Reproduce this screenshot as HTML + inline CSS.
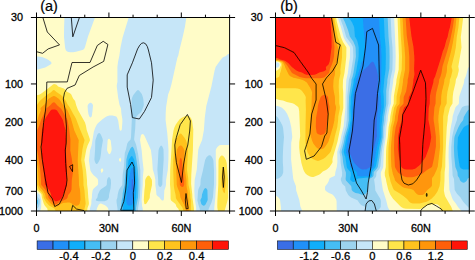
<!DOCTYPE html>
<html><head><meta charset="utf-8"><title>fig</title>
<style>
html,body{margin:0;padding:0;background:#fff;}
svg{display:block;}
.tl{font-family:"Liberation Sans",sans-serif;font-size:10.8px;fill:#000;stroke:#000;stroke-width:0.3px;}
.pl{font-family:"Liberation Sans",sans-serif;font-size:14.4px;fill:#000;stroke:#000;stroke-width:0.2px;}
</style></head><body>
<svg width="475" height="260" viewBox="0 0 475 260">
<rect width="475" height="260" fill="#fff"/>
<defs>
<filter id="soft" x="-5%" y="-5%" width="110%" height="110%"><feGaussianBlur stdDeviation="0.35"/></filter>
<clipPath id="ca"><rect x="36.5" y="17.5" width="193.1" height="193.5"/></clipPath>
<clipPath id="cb"><rect x="275.5" y="17.5" width="193.8" height="193.5"/></clipPath>
</defs>
<g clip-path="url(#ca)"><g filter="url(#soft)">
<rect x="35.5" y="16.5" width="195.1" height="195.5" fill="#FFFCC8"/>
<path fill="#FFE64B" fill-rule="evenodd" d="M53.0,84.4L54.0,84.1L56.0,84.6L56.8,85.0L58.1,86.5L63.8,88.5L65.1,89.5L66.6,91.5L70.0,93.2L71.3,94.5L73.1,98.5L75.1,101.0L76.1,105.0L78.0,110.0L85.0,122.5L85.9,125.5L86.7,130.0L89.8,139.0L89.9,140.5L87.6,145.5L86.3,149.5L84.4,160.0L86.1,170.5L87.0,180.0L87.1,184.5L87.7,189.0L88.3,197.5L88.9,203.0L88.8,204.5L87.5,208.0L87.0,212.0L47.9,212.0L47.3,208.5L44.7,205.5L43.7,203.5L41.9,197.5L41.5,194.5L40.4,193.0L36.5,189.6L35.5,189.0L35.5,95.4L39.0,94.8L41.0,93.8L48.7,88.0ZM186.0,115.8L187.0,115.7L188.5,116.0L190.0,117.0L191.2,118.5L192.1,121.0L193.3,129.5L192.9,150.0L191.3,174.5L191.1,184.0L192.3,194.5L192.4,197.5L193.9,208.0L194.0,212.0L179.3,212.0L178.5,208.9L176.5,206.7L175.5,204.0L171.1,200.5L170.6,199.0L170.5,190.5L170.0,184.5L170.2,170.0L172.1,139.5L173.5,130.5L174.4,127.5L175.8,124.5L179.4,119.5L181.3,118.0ZM221.5,155.5L222.0,155.4L223.0,155.8L224.5,157.4L226.1,160.5L226.7,163.0L228.1,180.0L227.9,190.0L228.1,197.5L227.7,200.0L224.3,212.0L218.1,212.0L217.4,208.0L217.3,206.0L217.4,200.5L218.3,185.0L218.5,161.0L218.7,159.5L219.5,157.7L220.5,156.3ZM148.5,175.4L149.5,176.1L151.7,179.5L152.0,181.0L152.0,185.0L149.9,194.5L149.8,197.5L149.5,198.5L146.8,203.0L145.9,204.0L145.0,204.3L144.5,204.0L144.3,203.5L143.8,200.0L144.4,190.5L145.1,185.0L145.1,180.5L145.5,179.0L146.5,177.2L147.5,175.9Z"/>
<path fill="#FFC31E" fill-rule="evenodd" d="M53.0,90.3L53.5,90.1L54.5,90.3L56.5,92.1L61.0,94.9L63.0,96.9L65.7,100.5L67.6,104.5L69.5,107.0L73.0,113.6L75.9,118.5L80.3,130.0L84.4,139.5L84.5,140.5L83.3,145.0L82.4,149.5L81.1,160.0L82.7,170.5L83.4,179.5L83.5,185.0L84.5,190.5L85.0,197.5L85.7,203.5L83.8,212.0L55.9,212.0L55.0,209.5L54.3,208.5L49.1,205.5L46.3,202.5L43.7,198.0L43.2,195.0L42.6,193.5L41.5,191.9L38.9,189.5L36.8,184.5L36.1,171.0L36.0,169.9L35.5,168.9L35.5,105.9L37.0,105.0L39.0,102.0L40.5,100.3L46.0,95.6L51.0,92.2ZM180.5,133.4L181.5,134.0L184.5,137.7L185.9,140.0L186.9,143.0L187.7,148.0L187.9,151.0L187.0,170.0L188.2,178.0L188.5,185.0L189.7,190.0L190.3,194.5L190.4,197.5L190.9,200.0L190.8,212.0L183.7,212.0L182.5,207.7L176.6,199.5L175.9,198.0L175.6,195.0L174.5,190.3L173.9,186.5L173.2,170.0L173.2,160.5L174.2,150.0L174.6,141.0L175.1,139.5L178.0,136.3L179.5,134.1ZM223.5,167.4L224.0,167.8L224.5,168.7L224.9,170.0L225.5,180.0L225.5,185.4L224.9,192.5L224.5,193.3L223.5,192.2L222.7,190.5L221.5,184.5L221.5,179.5L222.0,170.5L222.5,168.5L223.0,167.6Z"/>
<path fill="#FF960A" fill-rule="evenodd" d="M53.5,95.9L55.0,96.3L59.1,99.0L62.8,104.5L67.1,109.5L70.8,118.0L74.3,130.5L78.7,140.0L77.7,160.5L78.9,179.5L79.0,185.0L80.1,190.5L80.5,199.5L79.5,204.0L78.5,205.0L77.0,205.7L76.0,205.8L75.0,205.6L73.7,205.0L71.0,203.0L69.5,202.6L68.0,202.4L64.5,202.7L63.0,203.0L60.5,204.0L58.5,205.9L57.5,206.3L55.0,206.3L53.0,205.6L50.5,203.5L46.3,198.5L45.7,197.5L45.4,195.0L44.8,193.5L43.2,191.0L40.0,187.3L38.8,185.0L38.0,169.0L36.8,162.0L36.0,159.5L35.5,158.8L35.5,122.4L36.5,121.5L37.5,120.0L38.7,115.5L40.8,110.5L40.8,110.0L40.4,109.0L40.6,108.0L44.5,104.5L48.3,99.0L51.5,96.9ZM180.0,145.4L181.0,145.4L182.0,146.1L183.9,149.0L184.4,150.5L184.9,170.0L186.4,180.0L186.6,187.0L187.5,191.0L188.1,197.5L188.6,200.5L188.7,212.0L186.2,212.0L184.8,206.5L180.4,197.5L180.0,194.5L179.4,192.0L177.5,187.5L176.8,185.0L175.9,159.0L177.0,149.4L178.5,146.7Z"/>
<path fill="#FF5F0A" fill-rule="evenodd" d="M53.0,102.5L54.0,102.3L55.0,102.8L57.4,105.5L61.4,109.0L67.5,120.0L69.3,130.0L70.4,139.5L70.3,150.5L71.7,158.0L73.3,170.0L71.8,180.0L71.5,189.5L70.8,191.5L69.9,193.0L68.1,195.0L67.6,197.5L66.5,198.9L59.0,202.5L56.5,204.3L55.5,204.5L54.5,204.3L53.3,203.5L48.7,198.0L48.3,197.0L47.9,194.5L46.4,191.5L45.1,189.5L41.3,185.0L41.1,184.0L41.0,179.5L40.1,169.5L38.0,154.5L36.9,149.0L37.3,130.0L39.3,125.5L41.2,119.5L45.7,110.5L46.2,108.5L50.0,105.5L52.0,103.2ZM180.5,157.9L181.0,157.8L181.1,158.0L181.9,160.0L182.7,171.0L184.2,180.5L184.1,185.0L183.5,186.4L182.5,187.0L181.5,186.8L180.6,186.0L179.9,185.0L179.8,184.0L179.7,179.5L179.1,169.5L179.6,160.5L180.0,158.9Z"/>
<path fill="#FF1408" fill-rule="evenodd" d="M53.0,109.4L55.0,109.5L56.3,110.0L57.0,110.5L61.2,117.0L62.9,120.0L65.4,130.0L66.1,140.0L65.8,150.5L66.9,170.0L66.8,185.0L65.7,189.5L63.3,194.0L62.7,197.0L62.4,197.5L60.0,199.9L56.5,201.3L55.5,201.2L54.0,200.3L51.7,197.5L51.4,197.0L51.1,194.5L50.0,191.5L47.5,187.5L44.9,184.5L44.7,179.5L44.2,175.0L41.9,159.0L41.3,140.0L42.0,130.0L43.3,126.0L44.6,120.0L46.3,117.0L50.6,110.5L51.5,109.8Z"/>
<path fill="#C6E6F8" fill-rule="evenodd" d="M64.5,16.5L95.2,16.5L94.8,18.0L88.0,36.5L85.0,47.0L84.4,48.5L83.5,49.5L82.4,50.0L76.0,51.7L73.0,52.2L70.5,52.2L68.5,51.9L67.2,51.5L66.0,50.5L65.4,49.0L65.0,47.0L64.0,37.0L64.1,27.0ZM129.0,16.5L186.5,16.5L184.9,27.0L182.8,36.5L179.2,51.0L178.3,55.5L177.3,58.0L171.5,84.0L170.0,89.5L168.1,94.5L166.1,107.0L165.7,113.5L165.6,120.0L167.3,133.5L168.1,143.5L168.5,150.0L168.4,159.5L167.8,170.0L166.1,180.0L166.0,185.0L165.5,187.1L164.3,190.5L163.9,199.0L163.6,200.0L163.1,200.5L162.5,200.6L162.0,200.4L161.0,199.5L159.5,197.5L157.0,195.5L156.4,194.5L156.1,190.5L155.4,185.5L155.3,179.5L154.3,174.5L152.8,169.5L152.1,159.5L150.9,150.0L144.6,136.0L143.7,134.5L142.5,133.9L141.5,134.4L140.9,135.5L140.0,140.0L141.7,150.5L142.5,160.0L143.6,169.5L142.9,176.5L142.7,185.0L141.6,200.0L142.1,206.0L142.8,209.0L142.8,212.0L109.0,212.0L108.1,208.5L107.2,207.0L105.0,205.2L101.0,203.5L100.4,203.5L99.4,204.0L98.5,205.0L97.1,208.0L96.1,212.0L89.8,212.0L89.9,208.5L91.3,204.0L91.4,200.0L91.9,197.5L92.0,194.5L92.6,190.5L93.5,188.8L97.7,185.0L98.1,184.0L98.1,180.5L97.7,179.0L96.9,178.0L93.4,175.0L91.5,172.4L90.4,170.5L88.9,160.5L90.0,150.5L91.7,145.0L93.8,132.0L95.1,128.0L96.3,125.5L97.6,123.5L102.8,119.0L106.0,116.8L107.7,116.0L109.5,115.6L112.5,115.5L115.5,116.2L116.5,116.8L117.0,117.4L118.2,120.5L119.3,128.5L119.7,130.0L120.5,130.8L121.0,130.7L121.8,129.5L122.4,121.5L122.3,119.0L121.4,113.5L121.0,108.5L119.5,104.8L118.2,98.0L116.8,87.0L116.8,85.0L117.4,82.0L117.4,67.0L118.0,62.0L119.4,55.5L120.5,47.5L122.6,37.5ZM108.3,139.0L107.7,140.0L107.6,141.0L107.0,150.0L108.1,153.0L109.0,154.1L109.5,154.2L110.3,153.5L111.2,151.5L111.6,150.0L111.6,148.0L110.7,140.5L109.5,138.9L109.0,138.7ZM119.8,158.0L119.1,159.0L118.9,160.0L119.5,161.2L120.0,161.7L120.5,161.7L121.0,161.0L121.2,159.5L120.5,157.8L120.0,157.8ZM101.7,168.5L100.9,169.5L100.7,170.5L101.3,172.5L101.5,172.8L102.0,172.8L103.1,171.0L103.3,170.0L102.5,168.6L102.0,168.3ZM228.5,54.0L230.5,53.6L230.5,145.0L221.0,145.0L219.5,145.3L218.5,145.9L217.4,147.0L216.4,148.5L215.8,150.0L215.8,160.0L216.3,170.5L216.3,184.5L215.7,190.5L215.3,197.5L214.3,207.5L214.2,212.0L196.2,212.0L196.1,207.5L194.6,197.0L194.3,190.0L194.7,180.0L196.8,169.5L198.2,150.0L199.1,147.0L202.1,140.0L203.9,130.0L204.8,117.5L206.3,106.0L211.4,86.5L214.6,70.5L215.6,67.0L218.7,62.5L222.2,58.0L223.0,57.3L226.0,56.0L227.4,54.5ZM36.0,56.3L42.0,57.1L46.9,59.0L48.5,59.9L50.6,61.5L51.4,62.5L51.5,63.5L50.5,64.5L45.2,67.5L37.9,69.5L35.5,69.9L35.5,56.3ZM90.0,102.7L91.0,102.8L92.0,103.5L92.7,104.5L93.0,105.5L92.5,111.0L91.8,116.0L91.3,117.0L90.5,117.4L90.0,117.2L89.3,116.5L88.4,114.0L87.9,110.5L87.6,106.5L87.7,105.5L88.1,104.5L89.0,103.4ZM35.7,192.0L37.5,192.7L40.0,194.9L40.5,197.5L41.3,200.0L41.2,207.0L40.7,209.5L39.7,212.0L35.5,212.0L35.5,192.0Z"/>
<path fill="#9CD3EF" fill-rule="evenodd" d="M137.0,90.5L138.0,90.0L139.0,90.5L141.8,94.0L142.5,96.0L143.3,99.0L143.8,104.5L143.6,106.0L141.5,111.5L140.5,112.7L138.5,114.2L135.7,117.5L135.2,128.5L134.2,138.5L134.2,140.0L135.5,143.0L136.3,145.5L138.1,154.0L140.3,170.0L140.4,185.5L139.9,197.5L138.1,208.0L138.0,212.0L117.7,212.0L117.5,208.5L116.6,202.5L116.5,200.0L117.4,197.5L117.7,194.5L118.7,190.5L120.0,188.0L122.0,185.5L122.3,184.5L122.7,174.5L123.9,166.5L124.8,153.0L126.0,149.2L127.3,143.5L128.5,141.5L130.5,139.7L131.0,137.2L131.8,120.0L131.5,113.0L131.7,99.0L132.4,97.0L133.5,94.7ZM98.5,133.2L99.5,133.1L100.8,134.5L102.5,138.5L102.9,140.5L101.5,148.5L100.8,155.0L100.2,158.5L99.6,160.0L98.0,162.9L97.0,164.1L96.5,164.1L96.0,163.8L95.2,162.5L94.7,161.0L94.4,159.5L95.1,149.5L95.3,141.0L95.5,139.8L97.2,135.0L97.7,134.0ZM160.5,145.9L161.0,145.6L161.5,145.7L162.0,146.1L162.8,147.5L163.5,149.5L163.7,159.0L162.5,177.5L162.3,184.5L161.5,186.1L160.5,186.9L160.0,187.0L158.8,186.0L158.2,184.5L158.1,179.0L157.4,169.5L158.5,150.5L159.2,148.0ZM208.5,155.4L209.5,155.2L210.0,155.3L211.1,156.0L212.5,158.0L213.4,160.5L214.0,170.5L214.0,184.0L212.9,197.5L211.5,202.4L208.8,208.5L208.0,212.0L200.2,212.0L199.7,208.5L198.5,205.1L197.4,200.5L198.1,190.5L198.5,189.0L200.4,185.0L200.7,179.5L202.8,171.0L205.1,160.0L206.5,157.3ZM108.5,177.2L109.0,177.0L109.5,177.3L110.6,179.0L110.9,180.5L111.0,183.5L110.5,188.5L109.1,194.5L108.9,197.5L108.4,198.5L107.8,199.5L107.0,200.3L104.5,201.2L98.5,201.2L96.5,200.8L96.0,200.5L95.8,200.0L95.9,199.5L97.4,197.5L97.9,194.5L99.8,190.5L101.3,189.0L105.9,186.0L106.5,185.3L106.8,184.5L107.0,180.0L107.6,178.5ZM35.7,194.5L36.9,195.0L37.4,195.5L37.7,197.0L39.7,199.5L39.9,201.0L39.7,204.0L38.9,206.5L37.5,208.2L35.5,209.3L35.5,194.5Z"/>
<path fill="#45BEF5" fill-rule="evenodd" d="M132.0,146.7L132.5,146.8L133.0,147.3L134.0,149.1L135.5,154.2L136.8,162.0L137.8,170.0L138.1,175.0L138.4,180.0L138.4,189.0L138.0,197.5L136.1,207.5L136.0,212.0L120.8,212.0L120.9,207.0L121.7,200.5L122.5,197.0L122.7,193.5L123.2,190.5L124.6,185.0L124.7,180.0L125.9,170.0L126.4,159.5L127.4,155.5L128.5,152.4L130.4,148.5ZM205.0,188.2L205.5,188.1L206.4,188.5L207.4,190.0L207.7,199.5L207.5,200.5L205.5,204.5L204.5,205.4L203.5,205.7L202.2,205.0L201.3,204.0L200.5,201.0L200.4,200.0L201.7,197.5L202.0,194.5L203.4,190.5L204.2,189.0ZM36.0,199.4L37.5,199.9L38.0,200.5L38.0,203.0L37.5,204.2L35.5,205.2L35.5,199.3Z"/>
<path fill="#10AEFA" fill-rule="evenodd" d="M131.0,156.4L131.5,156.1L132.0,156.1L132.5,156.6L134.0,159.3L134.5,160.9L135.8,169.5L136.5,179.5L136.5,189.5L136.1,197.5L134.2,208.0L134.1,212.0L123.0,212.0L123.0,207.7L123.7,200.5L124.4,197.5L124.6,194.5L125.2,190.5L126.5,185.0L126.6,179.5L128.5,160.6L129.0,159.2Z"/>
<path fill="#2090F8" fill-rule="evenodd" d="M132.0,167.4L132.5,167.4L133.4,169.0L134.1,172.5L134.8,180.0L134.7,190.5L133.9,195.5L133.6,199.5L132.7,203.5L132.2,204.5L131.5,205.1L130.5,205.6L129.5,205.8L128.0,205.2L127.0,204.2L126.5,202.4L126.2,200.0L127.2,190.5L128.6,185.0L128.6,180.5L128.9,178.5L131.0,169.5L131.5,168.1Z"/>
<path fill="#3A6EE6" fill-rule="evenodd" d="M132.5,178.9L133.0,179.8L133.1,182.5L133.0,188.6L132.5,190.3L132.0,190.3L131.8,190.0L131.6,189.0L131.8,180.5L132.0,179.5Z"/>
<path d="M42.8,17.3L47.3,32.0L59.5,44.9L48.2,48.9L42.6,53.3L36.5,51.7" fill="none" stroke="#000" stroke-width="0.8" stroke-linejoin="round"/>
<path d="M71.3,17.3L72.8,36.8L79.4,17.6" fill="none" stroke="#000" stroke-width="0.8" stroke-linejoin="round"/>
<path d="M54.7,206.6L52.5,199.0L48.0,192.7L45.5,180.0L42.3,159.7L41.0,147.0L41.7,143.0L43.6,122.7L45.5,110.0L46.4,100.0L46.8,82.0L67.3,81.9L70.9,67.0L72.0,62.5L90.0,62.5L97.3,45.5L103.2,41.3L107.9,44.5L103.7,61.4L93.1,67.0L79.3,75.5L75.1,85.0L67.0,88.4L64.5,92.7L63.3,99.0L65.1,110.0L66.4,126.0L66.2,143.0L65.3,150.0L65.7,163.5L67.0,180.0L66.4,185.0L63.2,196.5L59.4,204.0L54.7,206.6" fill="none" stroke="#000" stroke-width="0.8" stroke-linejoin="round"/>
<path d="M72.7,164.7L69.5,166.5L72.5,171.7L72.7,164.7" fill="none" stroke="#000" stroke-width="0.8" stroke-linejoin="round"/>
<path d="M71.4,211.0L72.7,205.3L76.5,209.0L84.0,210.6" fill="none" stroke="#000" stroke-width="0.8" stroke-linejoin="round"/>
<path d="M143.6,42.8L145.6,43.8L147.3,46.5L148.4,50.0L151.5,62.8L153.2,80.1L151.5,97.5L144.5,111.4L139.3,119.0L132.4,117.6L130.6,104.4L127.2,87.1L127.2,74.9L132.4,62.8L137.6,48.9L139.8,45.2L141.6,43.3L143.6,42.8" fill="none" stroke="#000" stroke-width="0.8" stroke-linejoin="round"/>
<path d="M120.6,210.3L121.6,207.5L123.8,201.5L125.7,190.0L126.3,183.0L127.0,170.0L132.0,162.0L134.0,166.5L134.6,183.0L133.3,192.7L133.9,210.3L120.6,210.3" fill="none" stroke="#000" stroke-width="0.8" stroke-linejoin="round"/>
<path d="M187.4,114.5L180.2,124.7L176.4,137.3L174.8,145.0L175.3,153.0L176.4,162.7L181.5,182.5L183.5,165.0L186.0,150.8L187.8,145.0L189.7,131.0L190.4,120.9L187.4,114.5" fill="none" stroke="#000" stroke-width="0.8" stroke-linejoin="round"/>
<path d="M186.0,193.5L188.2,208.5L186.2,208.8L185.3,200.0L186.0,193.5" fill="none" stroke="#000" stroke-width="0.8" stroke-linejoin="round"/>
<path d="M223.3,167.0L224.2,177.0L223.4,187.5L222.5,177.0L223.3,167.0" fill="none" stroke="#000" stroke-width="0.8" stroke-linejoin="round"/>
</g></g>
<g clip-path="url(#cb)"><g filter="url(#soft)">
<rect x="274.5" y="16.5" width="195.8" height="195.5" fill="#FFFCC8"/>
<path fill="#FFE64B" fill-rule="evenodd" d="M275.0,16.5L335.8,16.5L336.8,21.5L340.9,37.0L343.0,42.1L345.9,46.5L346.4,47.5L346.3,56.0L346.0,59.5L344.5,72.7L343.0,80.0L342.8,87.0L343.2,92.5L343.3,108.0L341.4,117.0L341.2,120.5L340.4,127.5L337.4,142.0L332.7,158.0L332.4,160.0L332.6,162.0L332.0,163.3L329.5,166.9L327.4,169.0L326.0,170.0L322.8,171.5L320.5,173.8L319.0,174.8L313.5,177.0L312.0,177.1L310.0,176.5L307.2,175.0L305.5,173.5L304.2,171.5L303.3,169.5L301.4,163.0L299.8,153.5L299.2,147.5L299.3,142.0L300.2,136.0L299.2,111.0L298.5,107.5L297.6,106.5L294.2,104.0L292.5,103.2L286.8,102.0L283.0,100.5L279.5,99.9L276.5,98.9L274.5,98.5L274.5,71.3L277.0,70.5L278.5,69.6L279.5,68.4L280.9,65.0L280.4,63.0L279.2,62.0L277.5,61.6L274.5,61.4L274.5,16.5ZM397.5,16.5L463.3,16.5L460.8,37.0L461.5,47.5L458.3,66.5L458.8,69.5L458.7,71.0L457.5,76.0L455.9,79.5L455.5,83.0L453.3,92.0L452.7,97.0L452.5,103.5L450.0,107.5L447.8,116.5L447.6,120.5L446.8,127.0L446.3,136.0L445.4,156.5L445.3,166.5L444.6,172.5L444.5,180.5L443.9,190.5L444.5,194.0L445.2,196.5L451.3,207.0L452.6,210.5L452.9,212.0L442.2,212.0L442.0,211.4L440.5,209.5L439.9,207.0L439.4,206.0L438.0,204.8L436.0,204.1L430.5,204.6L428.0,205.1L425.1,206.5L422.5,208.3L420.0,209.1L406.0,208.7L403.5,208.2L402.0,207.5L400.6,206.5L393.0,198.8L390.2,194.5L388.2,189.5L386.3,181.5L385.8,178.5L384.9,176.0L384.7,172.5L385.8,167.0L386.1,151.0L386.4,147.0L387.8,137.0L388.6,127.0L390.0,120.5L390.3,116.5L391.9,108.0L393.7,103.5L393.9,96.0L396.3,82.5L396.5,79.5L398.7,69.5L398.9,55.5Z"/>
<path fill="#FFC31E" fill-rule="evenodd" d="M275.0,16.5L334.1,16.5L335.0,22.5L337.8,37.0L339.4,41.5L341.8,46.5L342.1,48.0L342.0,57.5L340.4,69.5L340.5,73.5L339.0,80.0L338.7,86.5L339.2,96.5L339.2,103.5L339.9,107.0L339.8,109.0L338.3,116.5L338.1,120.5L337.3,127.0L334.8,136.5L333.7,142.0L330.7,151.5L329.7,153.0L325.3,157.5L323.0,159.0L319.5,160.6L318.0,160.9L316.2,160.5L312.8,159.0L310.9,157.5L309.3,155.5L307.6,152.5L306.1,147.0L305.4,141.5L305.5,126.5L305.9,109.5L305.6,100.5L305.8,97.5L305.5,96.2L304.5,94.5L302.4,91.5L301.0,90.0L299.4,89.0L297.5,88.4L295.5,88.3L274.5,88.2L274.5,78.2L278.0,77.5L279.4,76.5L280.0,73.5L280.7,71.5L282.2,65.0L281.8,63.0L280.9,62.0L278.0,61.1L274.5,60.8L274.5,16.5ZM400.5,16.5L459.5,16.5L458.4,27.5L456.8,37.0L455.8,47.5L454.6,54.0L451.5,66.5L451.6,67.5L452.4,70.0L452.3,71.5L451.1,76.5L449.9,79.5L449.6,82.5L447.4,92.0L446.8,97.0L446.7,103.5L444.7,107.5L443.1,116.5L443.1,147.5L441.9,166.5L440.6,172.0L440.4,180.0L439.6,186.0L438.0,190.3L437.0,192.2L434.7,195.5L431.8,198.5L429.0,200.5L426.5,201.7L419.5,203.5L413.0,203.5L411.0,203.0L409.5,201.9L407.0,199.0L403.4,196.0L399.8,193.5L394.0,190.1L393.0,188.3L390.5,181.5L389.9,178.5L389.0,175.5L388.6,172.5L388.3,158.0L388.5,147.5L390.5,127.5L392.2,120.5L392.5,116.5L394.2,107.5L396.4,103.5L396.6,96.5L398.7,86.0L399.3,82.5L399.5,79.5L401.7,69.5L402.0,56.5L401.6,47.0L400.8,36.5L400.0,18.0L400.0,16.5Z"/>
<path fill="#FF960A" fill-rule="evenodd" d="M275.0,16.5L332.7,16.5L335.4,37.5L336.2,41.5L338.0,47.5L337.6,58.0L335.2,69.5L334.9,74.5L333.6,79.5L333.2,86.5L333.7,91.0L334.9,97.0L335.1,104.0L336.0,106.7L336.1,108.0L334.7,116.5L334.4,120.5L332.9,127.0L328.5,141.5L327.7,143.0L324.5,147.5L323.5,148.4L322.0,149.1L320.5,149.4L319.0,149.1L317.0,148.0L315.6,146.5L313.7,144.0L312.6,142.0L311.1,137.5L310.5,135.1L310.1,132.5L310.1,126.0L310.5,117.5L311.4,108.5L311.8,97.0L312.1,92.5L311.7,91.0L309.7,87.0L306.8,82.5L304.7,81.0L302.6,80.0L299.5,79.0L293.5,77.7L289.9,76.0L288.7,74.5L285.5,68.0L284.4,65.0L283.0,62.5L282.5,62.0L281.5,61.5L278.5,60.6L274.5,60.2L274.5,16.5ZM403.0,16.5L456.6,16.5L455.5,27.0L452.9,42.5L451.0,51.5L447.1,66.0L446.9,70.5L446.5,73.0L445.6,76.5L444.4,79.5L444.1,82.5L441.8,92.0L441.2,97.0L441.1,103.5L439.6,107.5L438.5,115.4L438.3,120.0L439.7,136.5L440.1,146.5L437.8,166.5L436.5,170.1L434.0,175.4L432.4,177.5L432.0,178.5L432.0,185.0L431.8,186.0L430.5,187.5L427.3,190.0L424.5,193.8L423.5,194.6L422.5,194.9L419.0,195.0L417.5,194.6L416.0,193.3L413.4,190.0L411.0,189.1L405.0,188.1L403.5,187.5L401.8,186.5L397.5,183.0L395.5,181.0L394.9,180.0L394.4,178.0L393.0,174.5L391.4,167.0L390.9,157.0L390.9,147.5L391.8,137.0L392.8,127.5L394.7,120.5L395.0,116.5L396.8,107.5L397.3,106.5L399.1,104.5L399.6,103.5L399.8,97.0L401.5,91.5L402.9,82.5L403.1,79.5L405.1,69.5L405.2,57.0L404.5,47.5L403.5,36.5L402.6,17.0L402.6,16.5Z"/>
<path fill="#FF5F0A" fill-rule="evenodd" d="M275.0,16.5L331.6,16.5L332.7,27.0L333.7,40.5L334.5,47.0L334.0,56.5L333.2,60.5L331.7,65.0L330.0,68.8L329.1,72.5L328.5,73.4L325.4,76.5L324.5,77.2L323.0,77.8L320.0,78.2L306.0,78.2L303.0,77.8L299.8,77.0L292.0,72.9L286.9,65.0L284.0,61.8L282.5,61.0L277.5,59.7L274.5,59.3L274.5,16.5ZM406.0,16.5L454.4,16.5L452.8,27.5L450.1,40.5L447.1,51.5L442.5,66.5L441.5,73.0L440.5,76.5L439.2,79.5L438.9,82.5L436.3,92.5L435.7,97.0L435.6,103.5L434.4,107.5L433.6,118.0L433.7,120.5L434.7,127.0L435.9,136.5L435.9,146.5L434.0,158.2L432.4,165.5L432.1,166.5L431.5,167.3L427.0,170.1L422.0,174.0L414.5,176.8L412.0,177.2L407.0,177.2L404.1,176.5L400.0,174.0L398.1,172.5L397.4,171.5L395.4,168.0L394.9,166.5L394.0,149.0L394.3,137.0L395.6,127.5L397.7,120.5L398.0,116.5L399.7,108.0L400.2,107.0L402.8,104.5L403.5,103.5L403.7,97.0L406.1,91.5L407.6,82.5L407.7,79.5L408.4,76.5L409.3,70.5L409.3,56.5L408.5,47.0L406.8,36.0L405.6,17.5L405.5,16.5ZM323.5,94.9L324.5,94.7L326.0,95.2L327.2,96.0L328.0,97.0L328.5,101.5L329.5,107.0L329.4,109.0L327.8,117.0L326.5,126.5L325.4,132.5L324.8,133.5L323.5,134.3L322.0,134.8L320.5,134.9L317.9,134.0L317.0,133.3L316.6,132.5L315.8,127.0L316.0,118.0L317.4,110.5L317.9,106.0L319.0,101.5L320.7,97.0L322.0,95.7Z"/>
<path fill="#FF1408" fill-rule="evenodd" d="M275.0,16.5L330.1,16.5L331.5,37.0L331.6,47.0L329.7,61.5L328.5,64.6L325.9,67.0L325.8,67.5L326.2,69.5L326.0,70.1L324.0,71.2L319.2,72.5L316.5,74.1L314.5,74.8L310.0,75.0L306.5,74.8L304.5,74.1L302.0,72.6L298.5,71.5L296.0,70.3L291.9,67.0L288.2,63.0L285.0,60.8L280.3,59.5L277.5,58.1L274.5,57.8L274.5,16.5ZM409.5,16.5L451.9,16.5L450.0,27.0L448.8,31.0L447.6,37.0L446.2,40.5L444.6,47.0L442.7,51.5L441.2,57.0L435.1,76.5L433.6,79.5L433.3,82.5L430.8,91.5L429.9,96.0L429.7,103.5L428.7,108.5L428.3,119.5L429.9,127.5L431.2,137.0L430.5,141.5L429.3,147.0L425.6,157.0L421.1,163.5L419.8,165.0L415.5,168.4L414.0,169.1L412.5,169.5L406.5,169.5L404.5,169.2L403.0,168.5L401.8,167.5L401.2,166.5L399.0,157.0L397.9,148.0L397.9,145.5L398.1,136.5L399.6,127.5L401.7,120.5L401.9,116.5L403.1,110.5L404.2,107.5L408.0,104.5L408.6,103.5L408.8,97.5L411.7,91.5L413.2,82.5L413.4,79.5L414.0,77.0L414.4,74.5L414.4,73.0L414.1,69.5L414.4,60.0L414.3,56.0L413.4,46.5L411.5,36.5L410.4,27.5L409.2,17.0L409.2,16.5Z"/>
<path fill="#C6E6F8" fill-rule="evenodd" d="M338.0,16.5L394.1,16.5L395.5,48.0L395.7,57.0L395.3,69.5L393.3,79.5L393.1,82.5L391.5,92.9L391.1,97.0L391.0,103.5L389.7,107.0L389.1,110.0L387.9,116.5L387.7,120.5L386.5,127.0L385.8,137.0L384.3,147.0L383.8,151.5L383.2,167.0L382.5,169.0L381.0,172.0L380.8,173.5L380.9,176.0L381.5,181.0L382.9,190.0L386.1,200.0L387.8,207.0L388.8,209.0L390.8,212.0L336.7,212.0L336.6,201.5L336.2,199.5L334.5,196.7L333.0,194.9L332.0,194.2L329.0,192.9L326.6,191.5L325.5,190.6L325.0,189.5L325.1,186.5L327.8,183.0L328.7,181.0L329.5,178.5L330.5,177.7L334.4,176.0L335.0,175.5L335.4,172.0L336.8,167.0L337.4,162.0L337.2,152.0L340.1,142.0L341.1,136.5L343.7,126.0L345.4,107.5L345.5,96.5L346.3,80.0L347.8,73.5L349.1,62.5L349.9,58.0L350.0,48.5L349.8,47.0L345.5,40.9L343.7,37.5L340.9,27.0L338.2,19.0L337.7,16.5ZM275.0,62.1L277.5,62.4L278.5,62.8L279.3,64.0L279.5,65.0L279.0,66.3L278.4,67.0L277.5,67.5L274.5,68.3L274.5,62.0ZM469.5,66.8L470.0,66.6L470.0,212.0L461.7,212.0L461.1,210.5L458.0,207.0L455.5,203.1L453.0,199.9L452.0,197.7L449.4,190.0L448.8,175.5L449.0,167.0L448.6,157.0L448.7,147.0L450.4,129.5L451.1,125.5L452.3,120.0L452.7,116.0L455.4,107.5L456.1,106.5L458.3,104.5L458.9,103.5L459.1,97.5L459.4,96.0L463.4,84.5L464.0,82.5L464.3,79.5L465.9,76.0L467.9,68.5L468.4,67.5ZM275.0,105.6L278.5,106.3L281.6,107.5L282.9,108.5L285.5,111.2L287.2,114.0L289.0,118.3L290.0,121.5L291.3,127.5L292.2,136.0L292.2,137.5L291.2,143.0L291.1,159.5L293.2,178.5L293.7,180.5L295.9,186.0L296.2,190.5L299.3,200.0L300.4,206.5L302.7,212.0L281.1,212.0L280.9,207.0L280.0,199.8L279.3,198.5L277.8,197.0L276.0,195.7L274.5,195.1L274.5,105.5Z"/>
<path fill="#9CD3EF" fill-rule="evenodd" d="M340.0,16.5L390.7,16.5L391.5,36.5L392.5,47.5L392.7,57.0L392.4,69.5L390.3,79.5L390.1,82.5L388.8,91.5L388.5,103.5L387.5,107.5L385.9,116.5L385.7,120.5L384.5,127.5L384.1,137.0L381.8,151.5L380.4,166.5L379.3,169.0L376.7,172.0L376.4,173.0L376.2,176.0L375.8,177.0L374.3,179.0L374.1,179.5L375.0,186.0L375.3,190.5L380.4,199.0L380.9,201.0L380.8,207.0L379.5,208.7L376.6,211.0L376.2,212.0L365.1,212.0L365.5,208.0L365.2,207.0L364.5,206.4L361.5,205.2L360.6,204.5L359.5,203.2L357.5,200.2L351.1,197.5L349.5,196.3L348.3,195.0L345.8,190.5L345.2,186.5L343.0,184.6L342.1,183.5L340.8,180.0L340.9,178.5L342.0,175.9L342.1,172.5L340.7,163.0L340.4,157.0L339.4,152.0L342.1,142.5L343.2,136.5L346.0,126.3L346.8,119.5L347.3,96.5L348.9,80.0L350.0,76.5L350.8,73.0L353.0,59.5L353.3,56.5L353.0,48.0L352.7,46.5L351.0,43.5L346.2,37.0L343.4,27.0L340.0,17.9L339.7,16.5ZM275.0,64.0L276.0,64.5L276.2,65.0L275.4,65.5L274.5,65.7L274.5,63.9ZM467.5,105.5L470.0,105.5L470.0,208.2L468.5,207.4L464.5,203.3L462.7,201.0L460.5,197.5L457.0,193.7L454.7,190.0L454.0,179.0L452.6,175.5L452.5,172.0L451.3,156.5L451.2,147.0L452.2,136.5L454.2,127.5L456.9,120.0L457.4,116.5L461.3,108.5L462.3,107.0L464.5,105.9ZM274.7,115.5L276.5,116.3L277.8,117.5L280.6,122.0L282.5,125.8L283.1,128.0L284.0,137.0L283.2,147.0L282.8,157.0L282.8,162.0L283.2,167.5L283.2,172.5L282.1,175.5L280.1,177.5L278.3,178.5L274.5,179.2L274.5,115.4Z"/>
<path fill="#45BEF5" fill-rule="evenodd" d="M342.5,16.5L387.6,16.5L388.5,36.5L389.4,47.5L389.6,57.0L389.4,68.5L387.4,79.5L387.3,82.5L386.2,91.0L386.2,104.0L384.0,117.0L383.9,120.5L383.0,127.0L382.7,137.5L380.8,147.5L379.4,157.5L377.8,167.0L376.9,168.5L373.8,172.0L373.5,175.5L373.1,176.5L372.0,177.5L368.9,179.0L368.4,179.5L367.7,190.5L367.0,192.0L365.8,193.5L364.5,194.6L363.5,194.9L362.0,194.8L358.5,193.5L355.5,193.0L353.0,191.5L351.7,190.0L351.4,187.0L351.1,186.0L346.0,180.5L345.6,179.0L345.9,175.5L345.9,172.5L344.3,168.0L343.2,163.0L342.6,157.0L341.6,152.5L341.7,151.0L344.0,142.0L344.8,137.0L347.7,127.0L348.8,120.5L348.7,108.0L349.1,96.5L351.3,82.5L351.5,79.5L352.6,76.5L353.5,72.5L355.9,56.5L355.6,48.0L355.2,46.0L353.3,41.5L349.8,36.5L348.0,30.0L344.9,22.0L342.7,17.5ZM469.0,109.5L470.0,109.1L470.0,177.6L468.6,178.0L467.8,178.5L466.9,180.5L466.0,181.5L464.5,182.5L463.5,182.8L462.0,182.3L460.5,181.0L459.9,180.0L459.3,178.0L457.8,176.0L457.4,172.0L455.4,167.0L454.3,157.0L454.0,150.5L453.9,146.5L454.3,138.0L454.7,136.0L458.5,126.9L460.5,123.6L463.2,120.0L463.8,117.0L466.4,112.5L467.8,110.5Z"/>
<path fill="#10AEFA" fill-rule="evenodd" d="M348.0,16.5L383.8,16.5L384.7,36.5L385.7,47.5L385.9,57.0L385.6,69.5L384.3,79.5L383.3,91.5L383.8,97.5L383.9,107.0L382.3,117.0L382.2,120.0L381.4,127.0L381.4,137.0L379.1,147.5L377.7,157.0L376.0,166.0L375.3,167.5L373.0,170.2L372.2,171.5L372.0,172.5L371.8,175.5L371.1,176.5L370.0,177.0L368.5,177.4L358.2,178.5L357.0,179.0L356.2,180.5L355.3,181.5L354.0,182.1L353.0,182.0L352.0,181.5L350.8,180.5L350.2,179.5L350.2,178.5L350.8,175.5L350.7,172.5L350.1,171.5L347.7,169.0L346.7,167.0L345.4,157.5L344.0,153.5L343.7,152.0L346.5,137.0L349.2,127.5L350.6,120.5L350.7,117.0L350.4,107.5L350.7,103.5L350.8,97.0L353.5,82.5L353.7,79.5L355.0,76.5L355.9,73.0L358.3,59.0L358.6,56.5L358.7,47.5L358.2,44.5L357.3,41.0L356.5,39.2L354.9,36.5L354.2,28.0L353.7,26.0L351.8,22.0L350.4,20.0L348.0,17.4L347.6,16.5ZM469.5,124.0L470.0,123.8L470.0,169.5L463.5,169.4L462.0,168.9L460.7,168.0L459.9,167.0L459.6,166.0L458.1,156.5L457.4,148.0L457.9,137.5L460.2,133.0L463.5,127.5L464.6,126.5Z"/>
<path fill="#2090F8" fill-rule="evenodd" d="M363.0,16.5L379.1,16.5L379.9,36.5L381.1,47.0L381.5,56.5L381.3,76.5L380.3,91.5L381.0,97.0L381.1,103.5L381.4,107.0L380.0,117.0L379.5,127.0L379.6,137.0L376.8,148.0L373.6,166.5L370.2,171.5L369.8,172.5L369.7,175.0L369.4,175.5L368.3,176.0L366.5,176.3L361.0,176.6L358.5,176.2L357.2,175.5L356.9,175.0L356.8,172.5L356.2,171.5L354.5,170.0L350.1,167.0L349.8,166.0L349.6,162.0L348.5,158.0L346.1,153.0L345.8,151.5L348.2,137.5L350.5,128.3L351.9,120.5L352.1,107.5L352.6,103.5L352.8,96.0L354.5,87.0L355.6,82.5L355.9,79.5L357.5,76.0L360.4,66.5L361.3,62.5L362.9,60.5L363.3,59.5L364.9,48.0L364.8,42.0L363.4,26.5L362.8,17.0L362.8,16.5Z"/>
<path fill="#3A6EE6" fill-rule="evenodd" d="M372.0,61.8L372.5,61.7L373.3,62.0L374.3,63.5L376.8,70.0L378.3,77.0L377.3,91.5L378.5,97.5L378.5,104.5L377.0,117.0L376.7,127.0L376.9,136.5L373.8,148.5L370.4,166.5L369.5,167.6L366.5,169.3L362.5,169.5L361.0,169.1L358.7,167.5L354.3,163.0L353.5,161.7L350.6,155.0L348.5,152.0L348.4,151.0L350.6,137.5L352.1,130.0L353.3,123.0L354.4,107.0L354.8,104.0L354.9,97.0L357.0,87.0L358.1,83.0L358.4,80.0L359.9,77.0L361.5,72.7L364.0,69.7L368.7,65.5L370.5,63.0Z"/>
<path d="M331.4,17.3L335.8,42.3L340.3,44.8L338.9,50.0L337.0,63.5L332.6,71.0L326.3,78.0L322.5,84.0L326.3,100.0L328.2,114.0L326.9,133.0L324.7,136.0L321.5,146.6L314.1,156.0L306.3,159.3L304.6,150.8L306.7,144.5L309.9,134.0L311.7,114.0L316.1,100.0L316.1,84.0L311.7,78.3L308.0,72.0L300.3,61.4L294.0,52.5L284.5,47.7L275.4,45.5" fill="none" stroke="#000" stroke-width="0.8" stroke-linejoin="round"/>
<path d="M366.1,199.0L361.0,190.0L356.5,183.0L350.8,162.7L349.6,157.0L348.9,151.0L350.7,141.0L352.4,131.0L353.6,117.0L353.9,110.0L355.4,93.5L359.2,80.0L363.0,66.0L365.5,47.0L366.8,31.6L372.5,28.4L378.6,45.0L379.4,80.0L377.5,93.5L376.3,110.0L374.2,120.0L372.5,150.0L371.0,166.5L368.2,183.0L367.4,192.7L366.1,199.0" fill="none" stroke="#000" stroke-width="0.8" stroke-linejoin="round"/>
<path d="M365.1,211.0L366.1,204.0L368.7,200.9L371.8,200.5L374.4,204.0L376.3,211.0" fill="none" stroke="#000" stroke-width="0.8" stroke-linejoin="round"/>
<path d="M420.7,70.2L414.3,88.1L408.0,105.0L402.7,114.6L402.3,122.0L399.5,138.0L400.6,172.0L402.0,180.0L404.0,183.2L408.3,185.0L412.8,183.8L416.6,180.0L421.7,172.0L422.8,144.5L424.9,122.0L426.0,98.7L425.5,82.9L420.7,70.2" fill="none" stroke="#000" stroke-width="0.8" stroke-linejoin="round"/>
<path d="M426.7,193.3L427.2,195.0L426.7,196.5L426.2,195.0L426.7,193.3" fill="none" stroke="#000" stroke-width="0.8" stroke-linejoin="round"/>
<path d="M420.5,211.0L422.4,208.5L427.5,204.7L431.9,203.4L436.3,206.0L441.4,209.1L442.6,211.0" fill="none" stroke="#000" stroke-width="0.8" stroke-linejoin="round"/>
</g></g>
<rect x="36.5" y="17.5" width="193.1" height="193.5" fill="none" stroke="#000" stroke-width="1"/>
<line x1="30.9" y1="17.50" x2="36.5" y2="17.50" stroke="#000" stroke-width="1"/>
<line x1="229.6" y1="17.50" x2="235.1" y2="17.50" stroke="#000" stroke-width="1"/>
<text x="23.00" y="21.25" text-anchor="end" class="tl">30</text>
<line x1="30.9" y1="83.94" x2="36.5" y2="83.94" stroke="#000" stroke-width="1"/>
<line x1="229.6" y1="83.94" x2="235.1" y2="83.94" stroke="#000" stroke-width="1"/>
<text x="23.00" y="87.69" text-anchor="end" class="tl">100</text>
<line x1="30.9" y1="122.19" x2="36.5" y2="122.19" stroke="#000" stroke-width="1"/>
<line x1="229.6" y1="122.19" x2="235.1" y2="122.19" stroke="#000" stroke-width="1"/>
<text x="23.00" y="125.94" text-anchor="end" class="tl">200</text>
<line x1="30.9" y1="160.44" x2="36.5" y2="160.44" stroke="#000" stroke-width="1"/>
<line x1="229.6" y1="160.44" x2="235.1" y2="160.44" stroke="#000" stroke-width="1"/>
<text x="23.00" y="164.19" text-anchor="end" class="tl">400</text>
<line x1="30.9" y1="191.32" x2="36.5" y2="191.32" stroke="#000" stroke-width="1"/>
<line x1="229.6" y1="191.32" x2="235.1" y2="191.32" stroke="#000" stroke-width="1"/>
<text x="23.00" y="195.07" text-anchor="end" class="tl">700</text>
<line x1="30.9" y1="211.00" x2="36.5" y2="211.00" stroke="#000" stroke-width="1"/>
<line x1="229.6" y1="211.00" x2="235.1" y2="211.00" stroke="#000" stroke-width="1"/>
<text x="23.00" y="214.75" text-anchor="end" class="tl">1000</text>
<line x1="36.50" y1="12.5" x2="36.50" y2="17.5" stroke="#000" stroke-width="1"/>
<line x1="36.50" y1="211.0" x2="36.50" y2="216.0" stroke="#000" stroke-width="1"/>
<line x1="60.64" y1="14.7" x2="60.64" y2="17.5" stroke="#000" stroke-width="1"/>
<line x1="60.64" y1="211.0" x2="60.64" y2="213.8" stroke="#000" stroke-width="1"/>
<line x1="84.78" y1="14.7" x2="84.78" y2="17.5" stroke="#000" stroke-width="1"/>
<line x1="84.78" y1="211.0" x2="84.78" y2="213.8" stroke="#000" stroke-width="1"/>
<line x1="108.91" y1="12.5" x2="108.91" y2="17.5" stroke="#000" stroke-width="1"/>
<line x1="108.91" y1="211.0" x2="108.91" y2="216.0" stroke="#000" stroke-width="1"/>
<line x1="133.05" y1="14.7" x2="133.05" y2="17.5" stroke="#000" stroke-width="1"/>
<line x1="133.05" y1="211.0" x2="133.05" y2="213.8" stroke="#000" stroke-width="1"/>
<line x1="157.19" y1="14.7" x2="157.19" y2="17.5" stroke="#000" stroke-width="1"/>
<line x1="157.19" y1="211.0" x2="157.19" y2="213.8" stroke="#000" stroke-width="1"/>
<line x1="181.32" y1="12.5" x2="181.32" y2="17.5" stroke="#000" stroke-width="1"/>
<line x1="181.32" y1="211.0" x2="181.32" y2="216.0" stroke="#000" stroke-width="1"/>
<line x1="205.46" y1="14.7" x2="205.46" y2="17.5" stroke="#000" stroke-width="1"/>
<line x1="205.46" y1="211.0" x2="205.46" y2="213.8" stroke="#000" stroke-width="1"/>
<line x1="229.60" y1="14.7" x2="229.60" y2="17.5" stroke="#000" stroke-width="1"/>
<line x1="229.60" y1="211.0" x2="229.60" y2="213.8" stroke="#000" stroke-width="1"/>
<text x="36.50"  y="232.40" text-anchor="middle" class="tl">0</text>
<text x="108.91"  y="232.40" text-anchor="middle" class="tl">30N</text>
<text x="181.32"  y="232.40" text-anchor="middle" class="tl">60N</text>
<rect x="275.5" y="17.5" width="193.8" height="193.5" fill="none" stroke="#000" stroke-width="1"/>
<line x1="269.9" y1="17.50" x2="275.5" y2="17.50" stroke="#000" stroke-width="1"/>
<line x1="469.3" y1="17.50" x2="474.8" y2="17.50" stroke="#000" stroke-width="1"/>
<text x="262.70" y="21.25" text-anchor="end" class="tl">30</text>
<line x1="269.9" y1="83.94" x2="275.5" y2="83.94" stroke="#000" stroke-width="1"/>
<line x1="469.3" y1="83.94" x2="474.8" y2="83.94" stroke="#000" stroke-width="1"/>
<text x="262.70" y="87.69" text-anchor="end" class="tl">100</text>
<line x1="269.9" y1="122.19" x2="275.5" y2="122.19" stroke="#000" stroke-width="1"/>
<line x1="469.3" y1="122.19" x2="474.8" y2="122.19" stroke="#000" stroke-width="1"/>
<text x="262.70" y="125.94" text-anchor="end" class="tl">200</text>
<line x1="269.9" y1="160.44" x2="275.5" y2="160.44" stroke="#000" stroke-width="1"/>
<line x1="469.3" y1="160.44" x2="474.8" y2="160.44" stroke="#000" stroke-width="1"/>
<text x="262.70" y="164.19" text-anchor="end" class="tl">400</text>
<line x1="269.9" y1="191.32" x2="275.5" y2="191.32" stroke="#000" stroke-width="1"/>
<line x1="469.3" y1="191.32" x2="474.8" y2="191.32" stroke="#000" stroke-width="1"/>
<text x="262.70" y="195.07" text-anchor="end" class="tl">700</text>
<line x1="269.9" y1="211.00" x2="275.5" y2="211.00" stroke="#000" stroke-width="1"/>
<line x1="469.3" y1="211.00" x2="474.8" y2="211.00" stroke="#000" stroke-width="1"/>
<text x="262.70" y="214.75" text-anchor="end" class="tl">1000</text>
<line x1="275.50" y1="12.5" x2="275.50" y2="17.5" stroke="#000" stroke-width="1"/>
<line x1="275.50" y1="211.0" x2="275.50" y2="216.0" stroke="#000" stroke-width="1"/>
<line x1="299.73" y1="14.7" x2="299.73" y2="17.5" stroke="#000" stroke-width="1"/>
<line x1="299.73" y1="211.0" x2="299.73" y2="213.8" stroke="#000" stroke-width="1"/>
<line x1="323.95" y1="14.7" x2="323.95" y2="17.5" stroke="#000" stroke-width="1"/>
<line x1="323.95" y1="211.0" x2="323.95" y2="213.8" stroke="#000" stroke-width="1"/>
<line x1="348.18" y1="12.5" x2="348.18" y2="17.5" stroke="#000" stroke-width="1"/>
<line x1="348.18" y1="211.0" x2="348.18" y2="216.0" stroke="#000" stroke-width="1"/>
<line x1="372.40" y1="14.7" x2="372.40" y2="17.5" stroke="#000" stroke-width="1"/>
<line x1="372.40" y1="211.0" x2="372.40" y2="213.8" stroke="#000" stroke-width="1"/>
<line x1="396.62" y1="14.7" x2="396.62" y2="17.5" stroke="#000" stroke-width="1"/>
<line x1="396.62" y1="211.0" x2="396.62" y2="213.8" stroke="#000" stroke-width="1"/>
<line x1="420.85" y1="12.5" x2="420.85" y2="17.5" stroke="#000" stroke-width="1"/>
<line x1="420.85" y1="211.0" x2="420.85" y2="216.0" stroke="#000" stroke-width="1"/>
<line x1="445.08" y1="14.7" x2="445.08" y2="17.5" stroke="#000" stroke-width="1"/>
<line x1="445.08" y1="211.0" x2="445.08" y2="213.8" stroke="#000" stroke-width="1"/>
<line x1="469.30" y1="14.7" x2="469.30" y2="17.5" stroke="#000" stroke-width="1"/>
<line x1="469.30" y1="211.0" x2="469.30" y2="213.8" stroke="#000" stroke-width="1"/>
<text x="275.50"  y="232.40" text-anchor="middle" class="tl">0</text>
<text x="348.18"  y="232.40" text-anchor="middle" class="tl">30N</text>
<text x="420.85"  y="232.40" text-anchor="middle" class="tl">60N</text>
<text x="40.2" y="11.2" class="pl">(a)</text>
<text x="280.2" y="11.2" class="pl">(b)</text>
<rect x="37.10" y="240.9" width="15.95" height="8.50" fill="#3A6EE6" stroke="#000" stroke-width="0.55"/>
<rect x="53.05" y="240.9" width="15.95" height="8.50" fill="#2090F8" stroke="#000" stroke-width="0.55"/>
<rect x="69.00" y="240.9" width="15.95" height="8.50" fill="#10AEFA" stroke="#000" stroke-width="0.55"/>
<rect x="84.95" y="240.9" width="15.95" height="8.50" fill="#45BEF5" stroke="#000" stroke-width="0.55"/>
<rect x="100.90" y="240.9" width="15.95" height="8.50" fill="#9CD3EF" stroke="#000" stroke-width="0.55"/>
<rect x="116.85" y="240.9" width="15.95" height="8.50" fill="#C6E6F8" stroke="#000" stroke-width="0.55"/>
<rect x="132.80" y="240.9" width="15.95" height="8.50" fill="#FFFCC8" stroke="#000" stroke-width="0.55"/>
<rect x="148.75" y="240.9" width="15.95" height="8.50" fill="#FFE64B" stroke="#000" stroke-width="0.55"/>
<rect x="164.70" y="240.9" width="15.95" height="8.50" fill="#FFC31E" stroke="#000" stroke-width="0.55"/>
<rect x="180.65" y="240.9" width="15.95" height="8.50" fill="#FF960A" stroke="#000" stroke-width="0.55"/>
<rect x="196.60" y="240.9" width="15.95" height="8.50" fill="#FF5F0A" stroke="#000" stroke-width="0.55"/>
<rect x="212.55" y="240.9" width="15.95" height="8.50" fill="#FF1408" stroke="#000" stroke-width="0.55"/>
<text x="69.00"  y="260.00" text-anchor="middle" class="tl" style="font-size:11.2px">-0.4</text>
<text x="100.90"  y="260.00" text-anchor="middle" class="tl" style="font-size:11.2px">-0.2</text>
<text x="132.80"  y="260.00" text-anchor="middle" class="tl" style="font-size:11.2px">0</text>
<text x="164.70"  y="260.00" text-anchor="middle" class="tl" style="font-size:11.2px">0.2</text>
<text x="196.60"  y="260.00" text-anchor="middle" class="tl" style="font-size:11.2px">0.4</text>
<rect x="277.40" y="240.9" width="15.82" height="8.50" fill="#3A6EE6" stroke="#000" stroke-width="0.55"/>
<rect x="293.22" y="240.9" width="15.82" height="8.50" fill="#2090F8" stroke="#000" stroke-width="0.55"/>
<rect x="309.04" y="240.9" width="15.82" height="8.50" fill="#10AEFA" stroke="#000" stroke-width="0.55"/>
<rect x="324.86" y="240.9" width="15.82" height="8.50" fill="#45BEF5" stroke="#000" stroke-width="0.55"/>
<rect x="340.68" y="240.9" width="15.82" height="8.50" fill="#9CD3EF" stroke="#000" stroke-width="0.55"/>
<rect x="356.50" y="240.9" width="15.82" height="8.50" fill="#C6E6F8" stroke="#000" stroke-width="0.55"/>
<rect x="372.32" y="240.9" width="15.82" height="8.50" fill="#FFFCC8" stroke="#000" stroke-width="0.55"/>
<rect x="388.14" y="240.9" width="15.82" height="8.50" fill="#FFE64B" stroke="#000" stroke-width="0.55"/>
<rect x="403.96" y="240.9" width="15.82" height="8.50" fill="#FFC31E" stroke="#000" stroke-width="0.55"/>
<rect x="419.78" y="240.9" width="15.82" height="8.50" fill="#FF960A" stroke="#000" stroke-width="0.55"/>
<rect x="435.60" y="240.9" width="15.82" height="8.50" fill="#FF5F0A" stroke="#000" stroke-width="0.55"/>
<rect x="451.42" y="240.9" width="15.82" height="8.50" fill="#FF1408" stroke="#000" stroke-width="0.55"/>
<text x="309.04"  y="260.00" text-anchor="middle" class="tl" style="font-size:11.2px">-1.2</text>
<text x="340.68"  y="260.00" text-anchor="middle" class="tl" style="font-size:11.2px">-0.6</text>
<text x="372.32"  y="260.00" text-anchor="middle" class="tl" style="font-size:11.2px">0</text>
<text x="403.96"  y="260.00" text-anchor="middle" class="tl" style="font-size:11.2px">0.6</text>
<text x="435.60"  y="260.00" text-anchor="middle" class="tl" style="font-size:11.2px">1.2</text>
</svg>
</body></html>
